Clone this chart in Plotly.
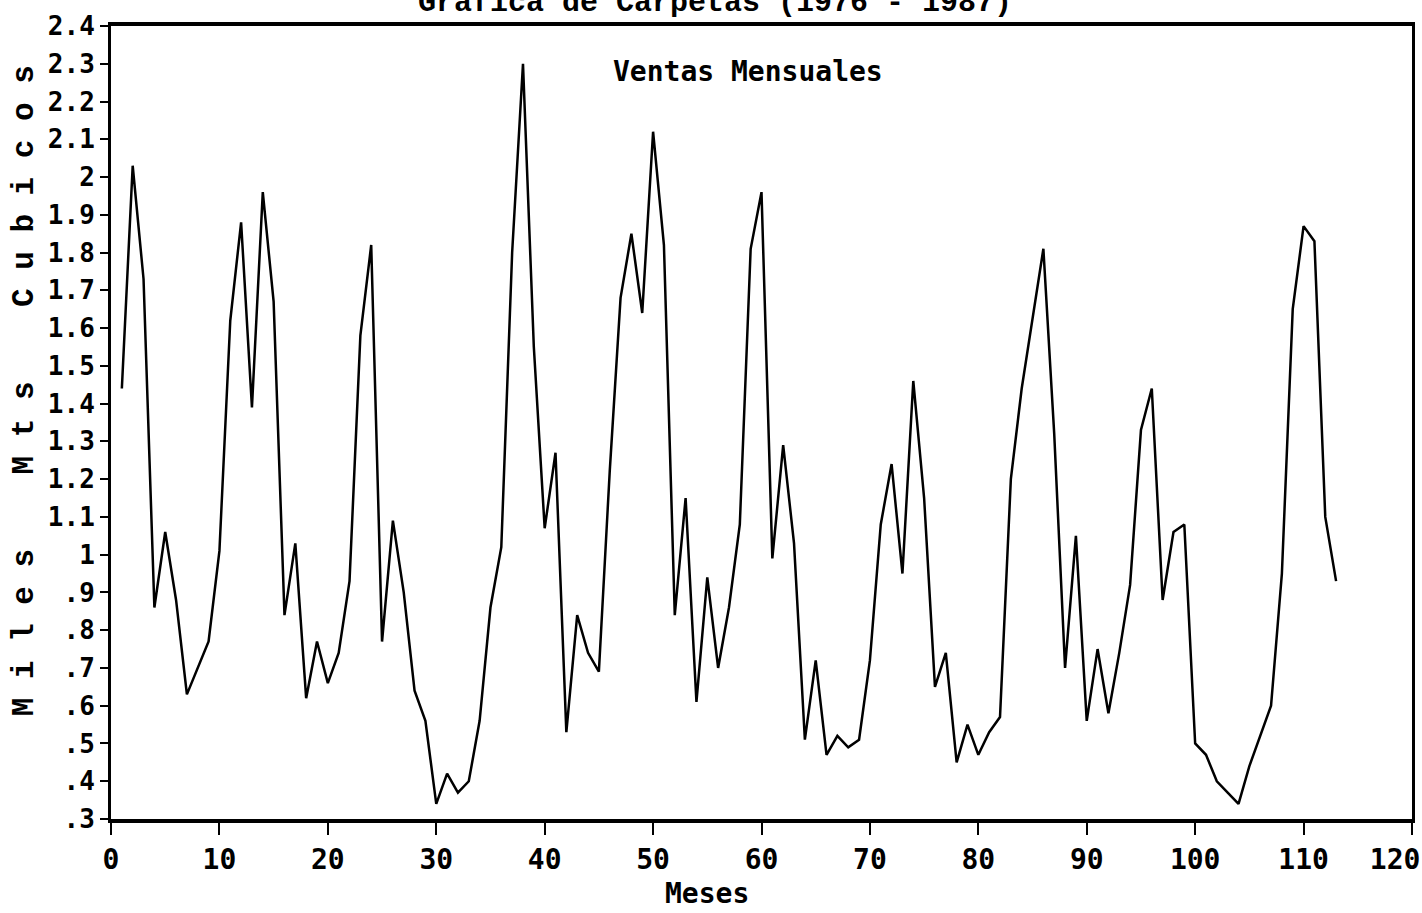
import plotly.graph_objects as go

# Monthly sales (thousands of cubic metres)
meses = list(range(1, 114))
ventas = [
    1.44, 2.03, 1.73, 0.86, 1.06, 0.88, 0.63, 0.70, 0.77, 1.01,
    1.62, 1.88, 1.39, 1.96, 1.67, 0.84, 1.03, 0.62, 0.77, 0.66,
    0.74, 0.93, 1.58, 1.82, 0.77, 1.09, 0.90, 0.64, 0.56, 0.34,
    0.42, 0.37, 0.40, 0.56, 0.86, 1.02, 1.80, 2.30, 1.55, 1.07,
    1.27, 0.53, 0.84, 0.74, 0.69, 1.22, 1.68, 1.85, 1.64, 2.12,
    1.82, 0.84, 1.15, 0.61, 0.94, 0.70, 0.86, 1.08, 1.81, 1.96,
    0.99, 1.29, 1.03, 0.51, 0.72, 0.47, 0.52, 0.49, 0.51, 0.72,
    1.08, 1.24, 0.95, 1.46, 1.15, 0.65, 0.74, 0.45, 0.55, 0.47,
    0.53, 0.57, 1.20, 1.44, 1.63, 1.81, 1.32, 0.70, 1.05, 0.56,
    0.75, 0.58, 0.74, 0.92, 1.33, 1.44, 0.88, 1.06, 1.08, 0.50,
    0.47, 0.40, 0.37, 0.34, 0.44, 0.52, 0.60, 0.95, 1.65, 1.87,
    1.83, 1.10, 0.93,
]

x_tickvals = list(range(0, 121, 10))
x_ticktext = [str(v) for v in x_tickvals[:-1]] + ["120\u00a0\u00a0"]
y_tickvals = [round(0.3 + 0.1 * i, 1) for i in range(22)]
y_ticktext = [".3", ".4", ".5", ".6", ".7", ".8", ".9", "1",
              "1.1", "1.2", "1.3", "1.4", "1.5", "1.6", "1.7", "1.8", "1.9", "2",
              "2.1", "2.2", "2.3", "2.4"]

titulo = "Grafica de Carpetas (1976 - 1987)"
subtitulo = "Ventas Mensuales"
eje_x = "Meses"
eje_y = "M i l e s    M t s    C u b i c o s"

sansmono = "DejaVu Sans Mono, monospace"
mono = "Liberation Mono, DejaVu Sans Mono, monospace"

fig = go.Figure()
fig.add_trace(go.Scatter(
    x=meses, y=ventas, mode="lines",
    line=dict(color="black", width=2.5),
    showlegend=False, hoverinfo="skip", cliponaxis=False,
))

fig.update_layout(
    width=1422, height=913,
    margin=dict(l=111, r=10, t=26, b=94, autoexpand=False),
    paper_bgcolor="white", plot_bgcolor="white",
    xaxis=dict(
        range=[-0.001, 120.001], tickvals=x_tickvals, ticktext=x_ticktext,
        showline=True, linewidth=4, linecolor="black", mirror=True,
        ticks="outside", ticklen=12, tickwidth=2, tickcolor="black",
        showgrid=False, zeroline=False, ticklabeloverflow="allow",
        automargin=False,
        tickfont=dict(family=sansmono, size=28, color="black", weight="bold"),
    ),
    yaxis=dict(
        range=[0.3, 2.4], tickvals=y_tickvals, ticktext=y_ticktext,
        showline=True, linewidth=3, linecolor="black", mirror=True,
        ticks="outside", ticklen=8, tickwidth=2, tickcolor="black",
        showgrid=False, zeroline=False, ticklabeloverflow="allow",
        automargin=False,
        tickfont=dict(family=sansmono, size=26, color="black", weight="bold"),
        ticklabelstandoff=0,
    ),
    annotations=[
        dict(text=titulo, xref="paper", yref="paper", x=0.464, y=1.029,
             xanchor="center", yanchor="middle", showarrow=False,
             font=dict(family=mono, size=30, color="black", weight="bold")),
        dict(text=subtitulo, xref="paper", yref="paper", x=0.4896, y=0.942,
             xanchor="center", yanchor="middle", showarrow=False,
             font=dict(family=sansmono, size=28, color="black", weight="bold")),
        dict(text=eje_x, xref="x", yref="paper", x=55, y=-0.094,
             xanchor="center", yanchor="middle", showarrow=False,
             font=dict(family=sansmono, size=28, color="black", weight="bold")),
        dict(text=eje_y, xref="paper", yref="paper", x=-0.0665, y=0.54,
             xanchor="center", yanchor="middle", showarrow=False, textangle=-90,
             font=dict(family=mono, size=31, color="black", weight="bold")),
    ],
)

fig.write_html("out.html")
